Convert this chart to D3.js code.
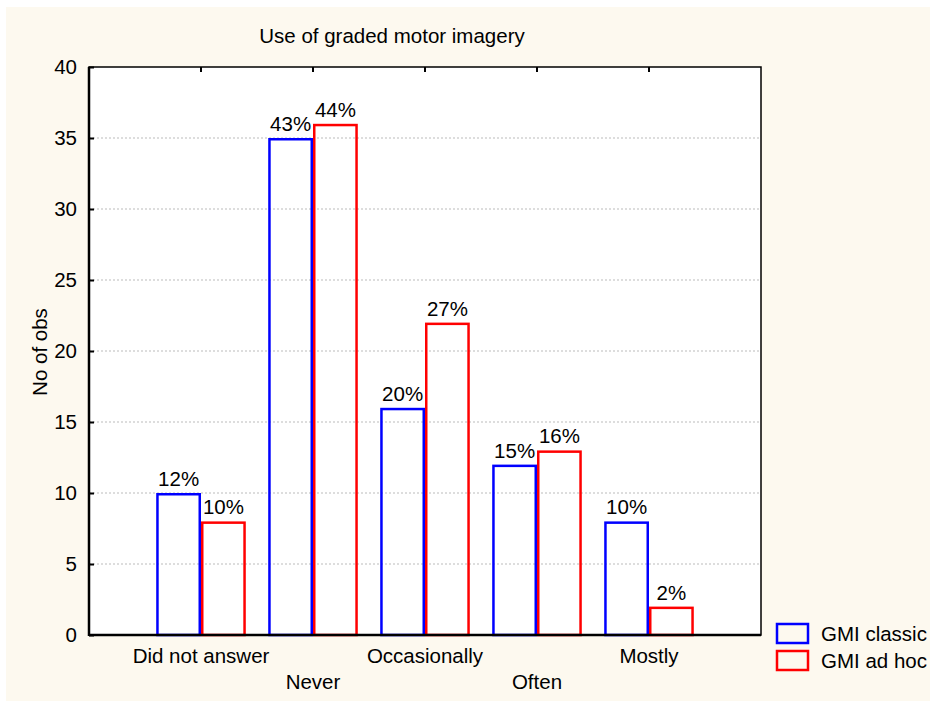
<!DOCTYPE html>
<html><head><meta charset="utf-8">
<script src="https://cdn.jsdelivr.net/npm/d3@7"></script>
<style>body{margin:0;background:#fff}svg{display:block}text{font-family:"Liberation Sans",Arial,sans-serif;fill:#000}</style>
</head><body>
<svg id="c" width="930" height="702"></svg>
<script>
const categories = ["Did not answer","Never","Occasionally","Often","Mostly"];
const classicValues = [10,35,16,12,8];
const adhocValues = [8,36,22,13,2];
const classicPct = ["12%","43%","20%","15%","10%"];
const adhocPct = ["10%","44%","27%","16%","2%"];
const yTicks = [0,5,10,15,20,25,30,35,40];
const seriesNames = ["GMI classic","GMI ad hoc"];
const seriesColors = ["#0000ff","#ff0000"];

const FS = 20.5;
const svg = d3.select("#c");
svg.append("rect").attr("x",6).attr("y",7).attr("width",924).attr("height",694).attr("fill","#fdf9ef");

const L=89,R=761,T=67,B=635;
const x = d3.scaleLinear().domain([0,6]).range([L,R]);
const y = d3.scaleLinear().domain([0,40]).range([B,T]);

svg.append("rect").attr("x",L).attr("y",T).attr("width",R-L).attr("height",B-T).attr("fill","#fff");

// grid
svg.append("g").selectAll("line").data(yTicks.filter(d=>d>0&&d<40)).join("line")
  .attr("x1",L).attr("x2",R).attr("y1",d=>y(d)).attr("y2",d=>y(d))
  .attr("stroke","#bbb").attr("stroke-width",1).attr("stroke-dasharray","2,2");

const bw = 0.4;
const series = [classicValues, adhocValues];
const pcts = [classicPct, adhocPct];
series.forEach((vals,s)=>{
  const g = svg.append("g");
  g.selectAll("rect").data(vals).join("rect")
    .attr("x",(d,i)=>x(i+1+(s===0?-bw:0))+1.25)
    .attr("width",x(bw)-x(0)-2.5)
    .attr("y",d=>y(d)+1.25)
    .attr("height",d=>y(0)-y(d)-1.25)
    .attr("fill","none").attr("stroke",seriesColors[s]).attr("stroke-width",2.5);
  g.selectAll("text").data(vals).join("text")
    .attr("x",(d,i)=>x(i+1+(s===0?-bw/2:bw/2)))
    .attr("y",d=>y(d)-7)
    .attr("text-anchor","middle").attr("font-size",FS)
    .text((d,i)=>pcts[s][i]);
});

// frame
svg.append("rect").attr("x",L).attr("y",T).attr("width",R-L).attr("height",B-T)
  .attr("fill","none").attr("stroke","#000").attr("stroke-width",1.5);
svg.append("line").attr("x1",L).attr("x2",L).attr("y1",T).attr("y2",B+1).attr("stroke","#000").attr("stroke-width",2.5);
svg.append("line").attr("x1",L).attr("x2",R).attr("y1",B).attr("y2",B).attr("stroke","#000").attr("stroke-width",2.5);

// y axis
const ya = d3.axisLeft(y).tickValues(yTicks).tickSize(-5).tickPadding(12);
const yg = svg.append("g").attr("transform",`translate(${L},0)`).call(ya);
yg.select(".domain").remove();
yg.selectAll(".tick line").attr("stroke","#000").attr("stroke-width",2);
yg.selectAll("text").attr("font-size",FS).attr("font-family","Liberation Sans, Arial, sans-serif");

// top ticks
svg.append("g").selectAll("line").data(d3.range(1,6)).join("line")
  .attr("x1",d=>x(d)).attr("x2",d=>x(d)).attr("y1",T).attr("y2",T+5).attr("stroke","#000").attr("stroke-width",2);

// x labels (staggered)
svg.append("g").selectAll("text").data(categories).join("text")
  .attr("x",(d,i)=>x(i+1)).attr("y",(d,i)=>i%2===0?663:689)
  .attr("text-anchor","middle").attr("font-size",FS).text(d=>d);

// title
svg.append("text").attr("x",392).attr("y",43).attr("text-anchor","middle").attr("font-size",20.5).text("Use of graded motor imagery");
// y title
svg.append("text").attr("transform","translate(47,352) rotate(-90)").attr("text-anchor","middle").attr("font-size",FS).text("No of obs");

// legend
const lg = svg.append("g");
seriesNames.forEach((n,i)=>{
  lg.append("rect").attr("x",777).attr("y",624+i*27).attr("width",31).attr("height",19)
    .attr("fill","none").attr("stroke",seriesColors[i]).attr("stroke-width",2.5);
  lg.append("text").attr("x",821).attr("y",641+i*27).attr("font-size",FS).text(n);
});
</script>
</body></html>
